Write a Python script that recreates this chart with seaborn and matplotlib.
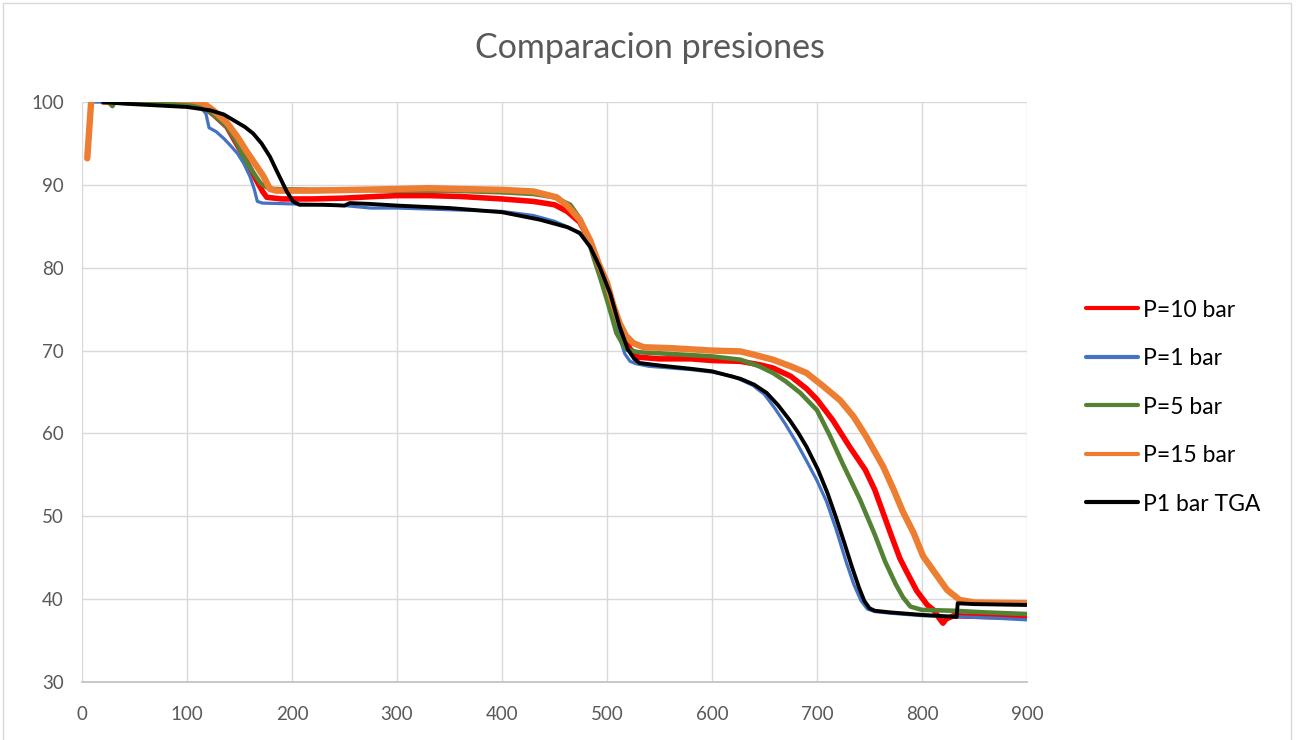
import matplotlib
matplotlib.use("Agg")
import matplotlib.pyplot as plt
from matplotlib.patches import Rectangle
import numpy as np
import pandas as pd
import seaborn as sns

# ---- data: mass (%) vs temperature for each pressure ----
p10_x = [20, 100, 115, 125, 138, 147, 157, 165, 172, 176, 190, 220, 250, 280, 300, 330, 360, 400,
         430, 450, 462, 474, 484, 492, 500, 508, 515, 522, 530, 550, 580, 600, 627, 645, 658, 675,
         690, 700, 715, 731, 746, 755, 763, 771, 779, 785, 795, 805, 811, 817, 820, 823, 830, 860,
         900]
p10_y = [100.0, 99.9, 99.5, 98.5, 97.0, 95.0, 92.8, 90.8, 89.2, 88.5, 88.3, 88.3, 88.4, 88.6, 88.7,
         88.7, 88.6, 88.3, 88.0, 87.6, 86.8, 85.5, 83.2, 80.5, 77.5, 74.5, 71.8, 70.2, 69.2, 69.0,
         69.0, 68.8, 68.7, 68.3, 67.9, 66.9, 65.4, 64.1, 61.6, 58.4, 55.6, 53.2, 50.4, 47.6, 44.9,
         43.4, 41.0, 39.3, 38.7, 37.6, 37.1, 37.6, 38.0, 37.9, 37.8]

p1_x = [10, 50, 100, 112, 118, 121, 128, 135, 141, 148, 154, 160, 164, 167, 172, 200, 250, 275,
        300, 350, 400, 430, 450, 465, 475, 485, 493, 500, 507, 512, 517, 522, 528, 540, 560, 580,
        600, 620, 639, 650, 660, 670, 680, 690, 700, 709, 718, 728, 735, 742, 748, 755, 770, 800,
        830, 850, 870, 900]
p1_y = [100.0, 99.9, 99.8, 99.5, 98.6, 96.9, 96.4, 95.6, 94.8, 93.8, 92.6, 91.0, 89.5, 88.0, 87.8,
        87.7, 87.5, 87.2, 87.2, 87.0, 86.8, 86.3, 85.6, 84.8, 84.0, 82.6, 80.2, 77.5, 74.0, 71.5,
        69.6, 68.7, 68.4, 68.1, 67.9, 67.7, 67.4, 66.9, 65.8, 64.7, 63.0, 61.1, 59.0, 56.7, 54.3,
        51.8, 48.5, 44.4, 41.8, 39.8, 38.8, 38.5, 38.3, 38.0, 37.9, 37.8, 37.7, 37.5]

p5_x = [25, 29, 31, 60, 100, 113, 125, 138, 146, 154, 162, 170, 176, 182, 220, 260, 300, 350, 400,
        430, 450, 465, 475, 482, 487, 493, 500, 505, 509, 514, 519, 530, 560, 600, 627, 645, 658,
        670, 684, 700, 712, 725, 741, 755, 765, 775, 782, 789, 800, 830, 860, 900]
p5_y = [100.0, 99.5, 100.0, 99.9, 99.8, 99.7, 98.5, 97.0, 95.4, 93.4, 91.7, 90.2, 89.7, 89.5, 89.4,
        89.4, 89.3, 89.3, 89.1, 88.9, 88.5, 87.6, 85.8, 83.5, 81.3, 79.0, 76.1, 73.9, 72.1, 71.0,
        70.1, 69.8, 69.6, 69.3, 68.9, 68.1, 67.3, 66.3, 64.9, 62.8, 59.8, 56.2, 52.0, 47.8, 44.5,
        41.8, 40.2, 39.1, 38.7, 38.6, 38.4, 38.2]

p15_x = [5, 9, 60, 105, 115, 125, 138, 148, 157, 165, 173, 179, 185, 220, 260, 300, 330, 360, 400,
         430, 452, 462, 474, 484, 492, 500, 506, 512, 518, 525, 535, 560, 600, 627, 640, 658, 675,
         690, 705, 722, 735, 747, 763, 773, 782, 792, 801, 811, 824, 836, 850, 900]
p15_y = [93.2, 100.6, 100.6, 100.2, 99.9, 99.0, 97.5, 95.8, 94.0, 92.5, 91.0, 89.5, 89.3, 89.3,
         89.4, 89.5, 89.6, 89.5, 89.4, 89.2, 88.5, 87.5, 85.8, 83.3, 80.5, 78.2, 75.5, 73.3, 71.8,
         70.9, 70.4, 70.3, 70.0, 69.9, 69.5, 68.9, 68.1, 67.3, 65.8, 64.0, 62.0, 59.6, 56.0, 53.2,
         50.5, 48.0, 45.2, 43.4, 41.1, 39.9, 39.6, 39.5]

tga_x = [20, 40, 70, 100, 122, 135, 147, 155, 163, 171, 179, 185, 190, 195, 201, 207, 230, 250,
         255, 274, 300, 350, 400, 436, 462, 474, 484, 493, 503, 512, 520, 526, 531, 550, 580, 600,
         627, 640, 652, 663, 674, 682, 690, 701, 710, 718, 726, 733, 740, 745, 750, 755, 770, 800,
         833, 834, 850, 900]
tga_y = [100.0, 99.8, 99.6, 99.4, 99.0, 98.5, 97.6, 97.0, 96.2, 95.0, 93.4, 91.8, 90.5, 89.2, 88.0,
         87.6, 87.6, 87.5, 87.8, 87.7, 87.5, 87.2, 86.7, 85.8, 84.9, 84.2, 82.5, 80.1, 76.9, 72.9,
         70.1, 69.0, 68.5, 68.2, 67.8, 67.5, 66.6, 65.9, 64.9, 63.4, 61.6, 60.1, 58.4, 55.6, 52.8,
         49.9, 46.8, 44.0, 41.4, 39.8, 38.9, 38.6, 38.4, 38.1, 37.85, 39.5, 39.4, 39.3]

series_names = ["P=10 bar", "P=1 bar", "P=5 bar", "P=15 bar", "P1 bar TGA"]
series_x = [p10_x, p1_x, p5_x, p15_x, tga_x]
series_y = [p10_y, p1_y, p5_y, p15_y, tga_y]
series_colors = ["#FF0000", "#4472C4", "#548235", "#ED7D31", "#000000"]
series_widths = [4.0, 2.3, 3.3, 4.6, 2.8]

x_ticks = [0, 100, 200, 300, 400, 500, 600, 700, 800, 900]
y_ticks = [30, 40, 50, 60, 70, 80, 90, 100]

# ---- styling ----
sns.set_theme(style="whitegrid")
plt.rcParams["font.family"] = ["Lato", "DejaVu Sans"]

W, H, DPI = 1298, 740, 100
fig = plt.figure(figsize=(W / DPI, H / DPI), dpi=DPI)
ax = fig.add_axes([82 / W, 1 - 682 / H, (1027 - 82) / W, (682 - 102) / H])

for name, xs, ys, col, lw in zip(series_names, series_x, series_y, series_colors, series_widths):
    df = pd.DataFrame({"T": xs, "m": ys})
    sns.lineplot(data=df, x="T", y="m", ax=ax, color=col, linewidth=lw,
                 sort=False, estimator=None, label=name, solid_capstyle="round",
                 solid_joinstyle="round")

ax.set_xlim(0, 900)
ax.set_ylim(30, 100)
ax.set_xticks(x_ticks)
ax.set_yticks(y_ticks)
ax.set_xlabel("")
ax.set_ylabel("")
ax.set_facecolor("white")
ax.grid(True, color="#D9D9D9", linewidth=1.0)
for side in ["top", "right", "left"]:
    ax.spines[side].set_visible(False)
ax.spines["bottom"].set_color("#BFBFBF")
ax.spines["bottom"].set_linewidth(1.2)
ax.tick_params(axis="both", length=0, labelsize=13.5, labelcolor="#595959")
ax.tick_params(axis="x", pad=17)
ax.tick_params(axis="y", pad=13)

ax.get_legend().remove()
handles, labels = ax.get_legend_handles_labels()
leg = fig.legend(handles, labels, loc="center left", bbox_to_anchor=(1086 / W, 1 - 407 / H),
                 frameon=False, fontsize=16.5, handlelength=2.27, handletextpad=0.22,
                 labelspacing=1.2, borderpad=0, borderaxespad=0)
for h in leg.get_lines():
    h.set_linewidth(3)
for t in leg.get_texts():
    t.set_color("#000000")

fig.text(650 / W, 1 - 58 / H, "Comparacion presiones", ha="center", va="baseline",
         fontsize=24.5, color="#595959")

fig.patches.append(Rectangle((3 / W, -0.05), (1291 - 3) / W, 1.05 - 3 / H,
                             transform=fig.transFigure, fill=False,
                             edgecolor="#D9D9D9", linewidth=1.0))

fig.savefig("out.png", dpi=DPI, facecolor="white")
